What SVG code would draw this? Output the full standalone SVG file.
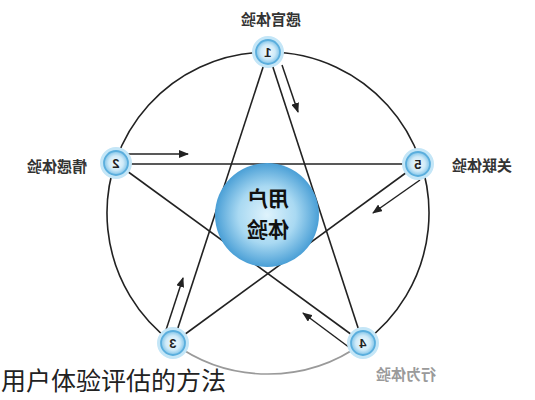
<svg xmlns="http://www.w3.org/2000/svg" width="535" height="400" viewBox="0 0 535 400">
<style>
.ln{stroke:#222;stroke-width:1.6;fill:none}
.arr{stroke:#222;stroke-width:1.5;fill:none;marker-end:url(#ah)}
.lbl{font-family:"Noto Sans CJK SC","Liberation Sans",sans-serif;font-weight:bold;font-size:15px;fill:#333;text-anchor:middle}
.num{font-family:"Liberation Sans","DejaVu Sans",sans-serif;font-weight:bold;font-size:13px;fill:#222;text-anchor:middle}
.ctr{font-family:"Noto Sans CJK SC","Liberation Sans",sans-serif;font-weight:bold;font-size:21px;fill:#111;text-anchor:middle}
.halo{fill:none;stroke:#c4e6f7;stroke-width:4}
.core{fill:url(#ng);stroke:#5aaedd;stroke-width:1.8}
</style>
<defs>
<radialGradient id="ng" cx="50%" cy="50%" r="50%">
<stop offset="0" stop-color="#f4fbfe"/>
<stop offset="0.6" stop-color="#cfeaf8"/>
<stop offset="1" stop-color="#7fc3e8"/>
</radialGradient>
<radialGradient id="cg" cx="50%" cy="50%" r="50%">
<stop offset="0" stop-color="#dff3fc"/>
<stop offset="0.55" stop-color="#a9d9f2"/>
<stop offset="1" stop-color="#4a9fd6"/>
</radialGradient>
<marker id="ah" markerUnits="userSpaceOnUse" markerWidth="10" markerHeight="8" refX="9" refY="4" orient="auto">
<path d="M0,0 L10,4 L0,8 z" fill="#222"/>
</marker>
</defs>
<rect width="535" height="400" fill="#fff"/>
<g id="connectors">
<path class="ln" d="M363 343 A161 161 0 1 0 173 343"/>
<path d="M173 343 A161 161 0 0 0 363 343" fill="none" stroke="#9a9a9a" stroke-width="1.6"/>
<line class="ln" x1="268" y1="52" x2="173" y2="343"/>
<line class="ln" x1="268" y1="52" x2="363" y2="343"/>
<line class="ln" x1="116" y1="164" x2="418" y2="164"/>
<line class="ln" x1="116" y1="163" x2="363" y2="343"/>
<line class="ln" x1="418" y1="164" x2="173" y2="343"/>
<line class="arr" x1="282" y1="65" x2="298" y2="112"/>
<line class="arr" x1="128" y1="154" x2="188" y2="154"/>
<line class="arr" x1="420" y1="180" x2="373" y2="213"/>
<line class="arr" x1="350" y1="348" x2="303" y2="313"/>
<line class="arr" x1="166" y1="330" x2="183" y2="278"/>
</g>
<g id="center">
<circle cx="267" cy="215" r="52" fill="url(#cg)"/>
<text class="ctr" transform="translate(268,0) scale(-1,1)" x="0" y="206">用户</text>
<text class="ctr" transform="translate(268,0) scale(-1,1)" x="0" y="237">体验</text>
</g>
<g id="node1">
<circle class="halo" cx="268" cy="52" r="14"/><circle class="core" cx="268" cy="52" r="12"/>
<text class="num" transform="translate(268,0) scale(-1,1)" x="0" y="57">1</text>
<text class="lbl" transform="translate(271,0) scale(-1,1)" x="0" y="25">感官体验</text>
</g>
<g id="node2">
<circle class="halo" cx="116" cy="163" r="14"/><circle class="core" cx="116" cy="163" r="12"/>
<text class="num" transform="translate(116,0) scale(-1,1)" x="0" y="168">2</text>
<text class="lbl" transform="translate(57,0) scale(-1,1)" x="0" y="172">情感体验</text>
</g>
<g id="node5">
<circle class="halo" cx="418" cy="164" r="14"/><circle class="core" cx="418" cy="164" r="12"/>
<text class="num" transform="translate(418,0) scale(-1,1)" x="0" y="169">5</text>
<text class="lbl" transform="translate(482,0) scale(-1,1)" x="0" y="171">关联体验</text>
</g>
<g id="node3">
<circle class="halo" cx="173" cy="343" r="14"/><circle class="core" cx="173" cy="343" r="12"/>
<text class="num" transform="translate(173,0) scale(-1,1)" x="0" y="348">3</text>
</g>
<g id="node4">
<circle class="halo" cx="363" cy="343" r="14"/><circle class="core" cx="363" cy="343" r="12"/>
<text class="num" transform="translate(363,0) scale(-1,1)" x="0" y="348">4</text>
<text class="lbl" transform="translate(406,0) scale(-1,1)" x="0" y="380" style="fill:#9a9a9a">行为体验</text>
</g>
<g id="caption">
<text x="1" y="390" font-family="Noto Sans CJK SC, Liberation Sans, sans-serif" font-size="25" fill="#222">用户体验评估的方法</text>
</g>
</svg>
